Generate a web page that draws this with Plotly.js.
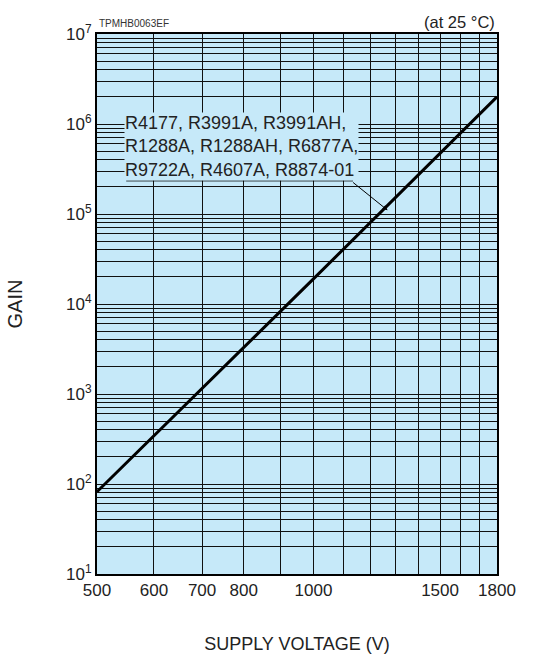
<!DOCTYPE html>
<html>
<head>
<meta charset="utf-8">
<script src="https://cdn.plot.ly/plotly-3.0.1.min.js"></script>
<style>html,body{margin:0;padding:0;background:#fff;}#chart{width:540px;height:656px;}</style>
</head>
<body>
<div id="chart"></div>
<script>
// Data
const voltage = [500, 1000, 1800];
const gain = [82, 19000, 2.0e6];

const xGridVals = [500, 600, 700, 800, 900, 1000, 1100, 1200, 1300, 1400, 1500, 1600, 1700, 1800];
const xLabelVals = [500, 600, 700, 800, 1000, 1500, 1800];
const yDecades = [1, 2, 3, 4, 5, 6, 7];
const modelLines = ["R4177, R3991A, R3991AH,", "R1288A, R1288AH, R6877A,", "R9722A, R4607A, R8874-01"];

const xText = xGridVals.map(v => xLabelVals.includes(v) ? String(v) : '');
const yVals = [], yText = [];
yDecades.forEach(d => {
  for (let m = 1; m <= 9; m++) {
    if (d === 7 && m > 1) break;
    yVals.push(m * Math.pow(10, d));
    yText.push(m === 1 ? '10<sup>' + d + '</sup>' : '');
  }
});

const trace = {
  x: voltage, y: gain, type: 'scatter', mode: 'lines',
  line: {color: '#000', width: 3}, hoverinfo: 'skip', showlegend: false
};

const layout = {
  width: 540, height: 656,
  margin: {l: 97, r: 43, t: 34, b: 82},
  paper_bgcolor: '#fff', plot_bgcolor: '#c6e9f9',
  font: {family: 'Liberation Sans, Arial, sans-serif', color: '#222', size: 16},
  xaxis: {
    type: 'log', range: [Math.log10(500), Math.log10(1800)],
    tickvals: xGridVals, ticktext: xText, ticks: '',
    showgrid: true, gridcolor: '#111', gridwidth: 1,
    showline: true, linecolor: '#000', linewidth: 2, mirror: true,
    zeroline: false, tickfont: {size: 17},
    title: {text: 'SUPPLY VOLTAGE (V)', font: {size: 18}, standoff: 38}
  },
  yaxis: {
    type: 'log', range: [1, 7],
    tickvals: yVals, ticktext: yText, ticks: '',
    showgrid: true, gridcolor: '#111', gridwidth: 1,
    showline: true, linecolor: '#000', linewidth: 2, mirror: true,
    zeroline: false, tickfont: {size: 17},
    title: {text: 'GAIN', font: {size: 20}, standoff: 38}
  },
  shapes: [
    {type: 'line', xref: 'paper', yref: 'paper', x0: 0.073, x1: 0.64, y0: 0.728, y1: 0.728,
     line: {color: '#000', width: 1}}
  ],
  annotations: [
    {xref: 'paper', yref: 'paper', x: 0.068, y: 0.731, xanchor: 'left', yanchor: 'bottom', yshift: -2,
     text: modelLines.join('<br>'), showarrow: false, align: 'left',
     bgcolor: '#c6e9f9', borderpad: 0, font: {size: 18, color: '#222'}},
    {xref: 'x', yref: 'y', x: Math.log10(1268), y: Math.log10(1.1e5), text: '',
     showarrow: true, arrowhead: 2, arrowsize: 1, arrowwidth: 1, arrowcolor: '#000',
     ax: -36, ay: -29},
    {xref: 'paper', yref: 'paper', x: 0, y: 1, xanchor: 'left', yanchor: 'bottom', yshift: 3,
     text: 'TPMHB0063EF', showarrow: false, font: {size: 10, color: '#333'}},
    {xref: 'paper', yref: 'paper', x: 1, y: 1, xanchor: 'right', yanchor: 'bottom', yshift: 1,
     text: '(at 25 °C)', showarrow: false, font: {size: 16.5, color: '#222'}}
  ]
};

Plotly.newPlot('chart', [trace], layout, {staticPlot: true, displayModeBar: false});
</script>
</body>
</html>
